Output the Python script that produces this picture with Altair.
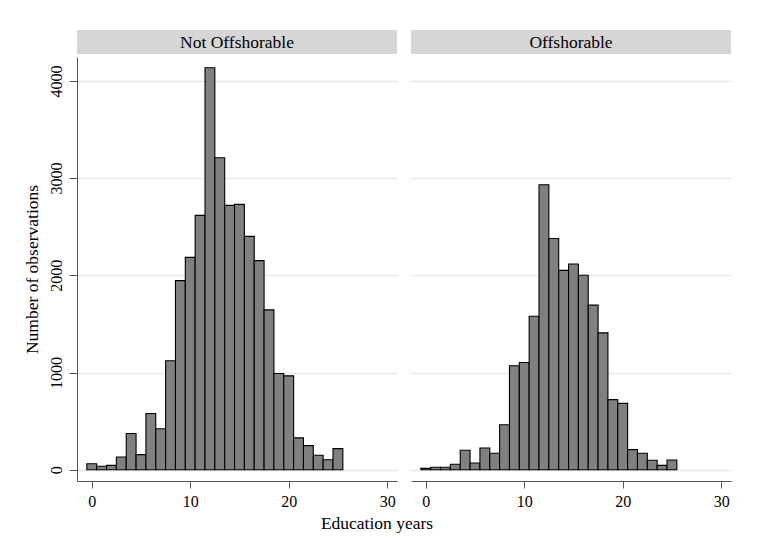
import altair as alt
import pandas as pd

edu = list(range(26))
not_offshorable = [62, 35, 45, 131, 372, 155, 579, 421, 1121, 1945, 2185, 2617, 4135,
                   3210, 2720, 2730, 2401, 2151, 1645, 990, 966, 328, 248, 149, 103, 217]
offshorable = [14, 25, 25, 56, 200, 69, 224, 170, 462, 1069, 1103, 1579, 2931,
               2379, 2051, 2116, 2000, 1693, 1408, 721, 683, 207, 170, 97, 45, 100]
panels = ["Not Offshorable", "Offshorable"]
x_ticks = [0, 10, 20, 30]
y_ticks = [0, 1000, 2000, 3000, 4000]

FONT = "Liberation Serif"
W, H, HH = 320, 424, 24


def panel(name, counts, show_y):
    df = pd.DataFrame({"edu": edu, "count": counts})
    header = alt.layer(
        alt.Chart(pd.DataFrame({"label": [name]})).mark_rect(color="#d6d6d6").encode(
            x=alt.value(0), x2=alt.value(W), y=alt.value(0), y2=alt.value(HH)
        ),
        alt.Chart(pd.DataFrame({"label": [name]})).mark_text(
            font=FONT, fontSize=17.5, color="black", baseline="middle", align="center"
        ).encode(x=alt.value(W / 2), y=alt.value(HH / 2 + 1), text="label:N"),
    ).properties(width=W, height=HH)

    if show_y:
        yaxis = alt.Axis(values=y_ticks, format="d", title="Number of observations", grid=True,
                         gridColor="#e8e8e8", gridWidth=1.5, domainColor="#555",
                         tickColor="#555", tickSize=8, labelAngle=270,
                         labelAlign="center", labelBaseline="bottom",
                         labelPadding=5, labelFont=FONT, labelFontSize=16,
                         labelColor="black", titleFont=FONT, titleFontSize=17.5,
                         titleFontWeight="normal", titleColor="black",
                         titlePadding=7)
    else:
        yaxis = alt.Axis(values=y_ticks, title=None, grid=True, gridColor="#e8e8e8",
                         gridWidth=1.5, labels=False, ticks=False, domain=False)

    xaxis = alt.Axis(values=x_ticks, format="d", title=None, grid=False, domainColor="#555",
                     tickColor="#555", tickSize=7, labelPadding=5, labelFont=FONT,
                     labelFontSize=16, labelColor="black", labelAngle=0)

    bars = alt.Chart(df).transform_calculate(
        lo="datum.edu - 0.5", hi="datum.edu + 0.5"
    ).mark_bar(fill="#808080", stroke="black", strokeWidth=1.1).encode(
        x=alt.X("lo:Q", scale=alt.Scale(domain=[-1.5, 31], nice=False, zero=False), axis=xaxis),
        x2="hi:Q",
        y=alt.Y("count:Q", scale=alt.Scale(domain=[-116, 4246], nice=False), axis=yaxis),
        y2=alt.datum(0),
    ).properties(width=W, height=H)

    return alt.vconcat(header, bars, spacing=1)


chart = alt.hconcat(
    panel(panels[0], not_offshorable, True),
    panel(panels[1], offshorable, False),
    spacing=12,
).properties(
    title=alt.TitleParams("Education years", orient="bottom", anchor="middle",
                          font=FONT, fontSize=17.5, fontWeight="normal", color="black",
                          offset=5),
    padding={"left": 14, "top": 21, "right": 10, "bottom": 10},
).configure_view(stroke="transparent")

chart.save("out.html", embed_options={"renderer": "svg", "actions": False})
